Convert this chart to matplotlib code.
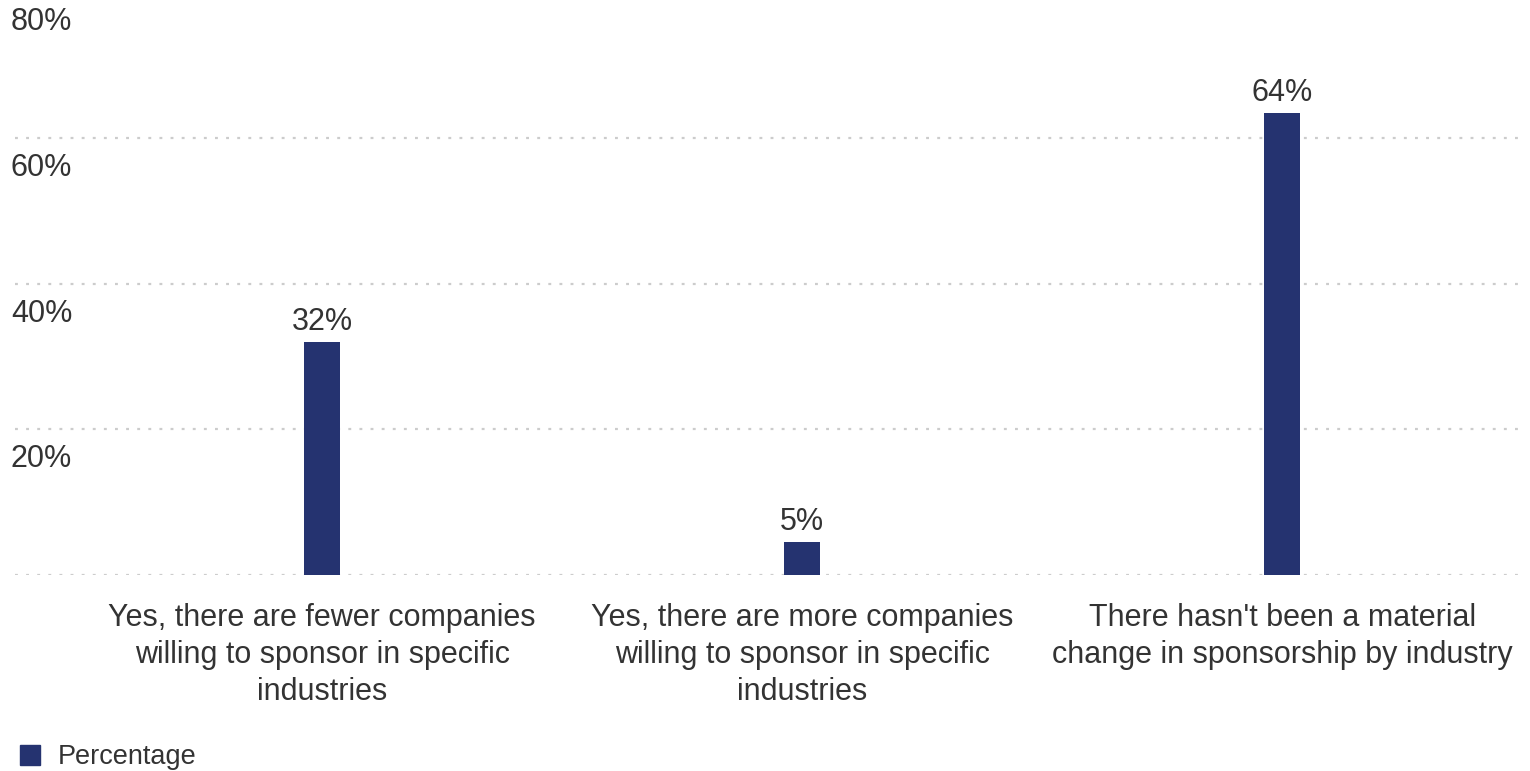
import matplotlib
matplotlib.use("Agg")
import matplotlib.pyplot as plt
import matplotlib.transforms as mtransforms
from matplotlib.lines import Line2D

# donnees
categories = [
    "Yes, there are fewer companies\nwilling to sponsor in specific\nindustries",
    "Yes, there are more companies\nwilling to sponsor in specific\nindustries",
    "There hasn't been a material\nchange in sponsorship by industry",
]
percentage = [32, 4.5, 63.5]
value_labels = ["32%", "5%", "64%"]
yticks = [0, 20, 40, 60, 80]
ytick_labels = ["", "20%", "40%", "60%", "80%"]

bar_color = "#253370"
text_color = "#333333"
grid_color = "#cccccc"

plt.rcParams['font.family'] = ['Liberation Sans', 'DejaVu Sans']

W, H = 1530, 771
fig = plt.figure(figsize=(W / 100, H / 100), dpi=100)
# zone de trace: gauche 15px, droite 1525px, bas 575px, haut un peu hors image
ax = fig.add_axes([15 / W, (H - 575) / H, 1510 / W, (575 + 7.5) / H])

x = list(range(len(categories)))
bars = ax.bar(x, percentage, width=0.075, color=bar_color, zorder=3)

ax.set_xlim(-0.64, 2.506)
ax.set_ylim(0, 80)

# grille pointillee
for v in yticks:
    ax.axhline(v, color=grid_color, lw=1.6, linestyle=(0, (1.3, 3.7)), zorder=1)

# etiquettes de l'axe y: sous la ligne, alignees a gauche
trans = mtransforms.blended_transform_factory(fig.transFigure, ax.transData)
off = mtransforms.offset_copy(trans, fig=fig, x=0, y=-30, units='dots')
for v, lab in zip(yticks, ytick_labels):
    if lab:
        ax.text(11 / W, v, lab, transform=off, ha='left', va='center',
                fontsize=22, color=text_color)

# valeurs au dessus des barres
for xi, val, lab in zip(x, percentage, value_labels):
    ax.annotate(lab, (xi, val), xytext=(0, 14.5), textcoords='offset points',
                ha='center', va='center', fontsize=22, color=text_color)

ax.set_yticks([])
ax.set_xticks(x)
ax.set_xticklabels(categories, fontsize=22, color=text_color, linespacing=1.3)
ax.tick_params(axis='x', length=0, pad=20)
for s in ax.spines.values():
    s.set_visible(False)

handle = Line2D([], [], marker='s', linestyle='none', markersize=14,
                markerfacecolor=bar_color, markeredgecolor=bar_color)
fig.legend([handle], ["Percentage"], loc='center left',
           bbox_to_anchor=(6 / W, (H - 757) / H), frameon=False,
           fontsize=19.5, labelcolor=text_color, handletextpad=0.5,
           borderaxespad=0, handlelength=1.0)

fig.savefig("out.png", dpi=100)
